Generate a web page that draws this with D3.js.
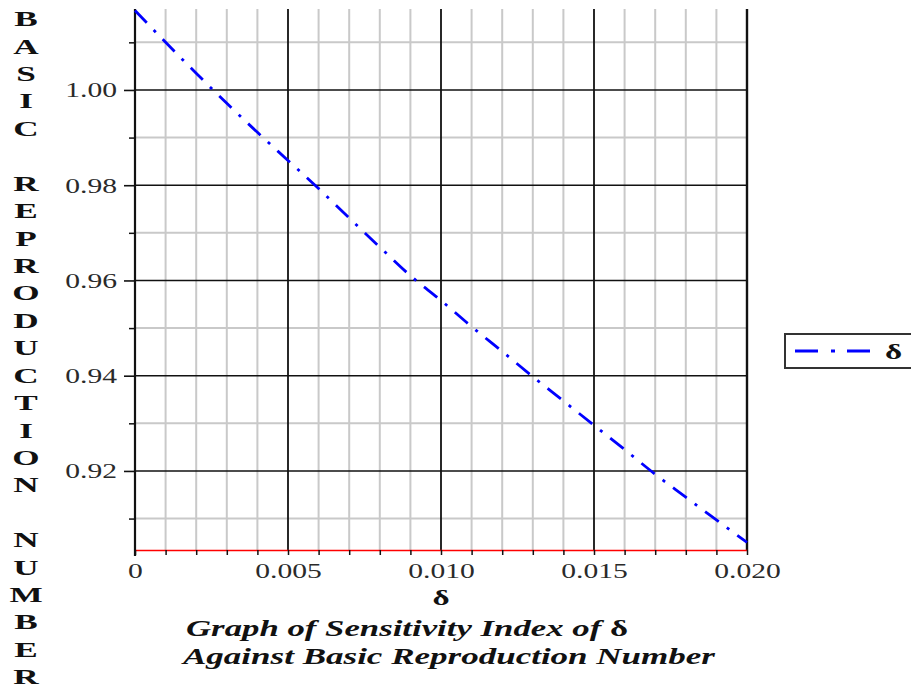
<!DOCTYPE html>
<html>
<head>
<meta charset="utf-8">
<script src="https://cdn.jsdelivr.net/npm/d3@7"></script>
<style>
  html, body { margin: 0; padding: 0; background: #fff; }
  svg { display: block; }
</style>
</head>
<body>
<svg id="chart" width="911" height="689"></svg>
<script>
// ---------------- data ----------------
const deltaValues = [0, 0.001, 0.002, 0.003, 0.004, 0.005, 0.006, 0.007, 0.008, 0.009, 0.010,
                     0.011, 0.012, 0.013, 0.014, 0.015, 0.016, 0.017, 0.018, 0.019, 0.020];
const r0Values = [1.0167, 1.0100, 1.0035, 0.9972, 0.9911, 0.9852, 0.9793, 0.9731, 0.9670, 0.9610, 0.9558,
                  0.9503, 0.9451, 0.9398, 0.9347, 0.9296, 0.9245, 0.9193, 0.9145, 0.9097, 0.9050];
const xTickValues = [0, 0.005, 0.010, 0.015, 0.020];
const xTickLabels = ["0", "0.005", "0.010", "0.015", "0.020"];
const yTickValues = [0.92, 0.94, 0.96, 0.98, 1.00];
const yTickLabels = ["0.92", "0.94", "0.96", "0.98", "1.00"];
const xMinorValues = [0.001, 0.002, 0.003, 0.004, 0.006, 0.007, 0.008, 0.009, 0.011, 0.012, 0.013, 0.014,
                      0.016, 0.017, 0.018, 0.019];
const yMinorValues = [0.91, 0.93, 0.95, 0.97, 0.99, 1.01];
const xDomain = [0, 0.02];
const yDomain = [0.9034, 1.0170];
const yAxisTitle = ["B","A","S","I","C","","R","E","P","R","O","D","U","C","T","I","O","N","","N","U","M","B","E","R"];
const xAxisTitle = "δ";
const legendLabel = "δ";
const titleLine1 = ["Graph of Sensitivity Index of ", "δ"];
const titleLine2 = "Against Basic Reproduction Number";

// ---------------- layout ----------------
const pLeft = 135, pRight = 747, pTop = 9, pBottom = 550;
const SX = 1.48; // horizontal stretch of the text in the reference
const serif = "'Liberation Serif', 'Times New Roman', serif";
const svg = d3.select("#chart");
const x = d3.scaleLinear().domain(xDomain).range([pLeft, pRight]);
const y = d3.scaleLinear().domain(yDomain).range([pBottom, pTop]);

const grid = svg.append("g");
grid.selectAll("line.vminor").data(xMinorValues).join("line")
  .attr("x1", d => x(d)).attr("x2", d => x(d))
  .attr("y1", pTop).attr("y2", pBottom)
  .attr("stroke", "#c9c9c9").attr("stroke-width", 2);
grid.selectAll("line.hminor").data(yMinorValues).join("line")
  .attr("x1", pLeft).attr("x2", pRight)
  .attr("y1", d => y(d)).attr("y2", d => y(d))
  .attr("stroke", "#c9c9c9").attr("stroke-width", 2);
grid.selectAll("line.hmajor").data(yTickValues).join("line")
  .attr("x1", pLeft).attr("x2", pRight)
  .attr("y1", d => y(d)).attr("y2", d => y(d))
  .attr("stroke", "#111").attr("stroke-width", 1.6);
grid.selectAll("line.vmajor").data(xTickValues.slice(1)).join("line")
  .attr("x1", d => x(d)).attr("x2", d => x(d))
  .attr("y1", pTop).attr("y2", pBottom)
  .attr("stroke", "#111").attr("stroke-width", d => d === 0.02 ? 2.4 : 1.8);

// ---------------- axes ----------------
const xAxis = d3.axisBottom(x)
  .tickValues(deltaValues)
  .tickSize(5).tickSizeOuter(0)
  .tickFormat(d => {
    const i = xTickValues.findIndex(v => Math.abs(v - d) < 1e-9);
    return i >= 0 ? xTickLabels[i] : "";
  });
const gx = svg.append("g").attr("transform", `translate(0,${pBottom})`).call(xAxis);
gx.select(".domain").attr("stroke", "#ff0000").attr("stroke-width", 1.6);
gx.selectAll(".tick line").attr("stroke", "#111").attr("stroke-width", 1.5);
gx.selectAll(".tick text")
  .attr("y", 28).attr("dy", 0)
  .attr("font-family", serif)
  .attr("font-size", 20).attr("fill", "#2a2a2a")
  .attr("transform", `scale(${SX},1)`);

const yAxis = d3.axisLeft(y)
  .tickValues(yTickValues).tickSize(11).tickSizeOuter(0)
  .tickFormat((d, i) => yTickLabels[i]);
const gy = svg.append("g").attr("transform", `translate(${pLeft},0)`).call(yAxis);
gy.select(".domain").remove();
gy.selectAll(".tick line").attr("stroke", "#111").attr("stroke-width", 1.6);
gy.selectAll(".tick text")
  .attr("x", -18 / SX).attr("dy", "0.34em")
  .attr("font-family", serif)
  .attr("font-size", 20).attr("fill", "#2a2a2a")
  .attr("transform", `scale(${SX},1)`);
const yAxisMinor = d3.axisLeft(y).tickValues(yMinorValues).tickSize(6).tickSizeOuter(0).tickFormat("");
const gym = svg.append("g").attr("transform", `translate(${pLeft},0)`).call(yAxisMinor);
gym.select(".domain").remove();
gym.selectAll(".tick line").attr("stroke", "#111").attr("stroke-width", 1.5);
svg.append("line")
  .attr("x1", pLeft).attr("x2", pLeft).attr("y1", pTop).attr("y2", pBottom + 6)
  .attr("stroke", "#111").attr("stroke-width", 2.2);

// ---------------- curve ----------------
const pts = deltaValues.map((d, i) => [d, r0Values[i]]);
const line = d3.line().x(d => x(d[0])).y(d => y(d[1])).curve(d3.curveMonotoneX);
svg.append("path")
  .attr("d", line(pts))
  .attr("fill", "none").attr("stroke", "#0000ff").attr("stroke-width", 2.8)
  .attr("stroke-dasharray", "17,10,3,10");

// ---------------- legend ----------------
const lg = svg.append("g").attr("transform", "translate(785,334)");
lg.append("rect").attr("x", 0).attr("y", 0).attr("width", 140).attr("height", 34)
  .attr("fill", "#fff").attr("stroke", "#333").attr("stroke-width", 2);
lg.append("line").attr("x1", 10).attr("x2", 85).attr("y1", 17).attr("y2", 17)
  .attr("stroke", "#0000ff").attr("stroke-width", 3).attr("stroke-dasharray", "23,13,4,12");
lg.append("text")
  .attr("transform", `translate(100,25) scale(1.5,1)`)
  .attr("font-family", serif)
  .attr("font-weight", "bold").attr("font-size", 22).attr("fill", "#111")
  .text(legendLabel);

// ---------------- titles ----------------
svg.append("text")
  .attr("transform", `translate(${(pLeft + pRight) / 2},605) scale(1.5,1)`)
  .attr("text-anchor", "middle")
  .attr("font-family", serif)
  .attr("font-weight", "bold").attr("font-size", 22).attr("fill", "#111")
  .text(xAxisTitle);

const t1 = svg.append("text")
  .attr("x", 186).attr("y", 636)
  .attr("textLength", 442).attr("lengthAdjust", "spacingAndGlyphs")
  .attr("font-family", serif)
  .attr("font-weight", "bold").attr("font-style", "italic")
  .attr("font-size", 24).attr("fill", "#111");
t1.append("tspan").text(titleLine1[0]);
t1.append("tspan").attr("font-style", "normal").text(titleLine1[1]);

svg.append("text")
  .attr("x", 183).attr("y", 664)
  .attr("textLength", 532).attr("lengthAdjust", "spacingAndGlyphs")
  .attr("font-family", serif)
  .attr("font-weight", "bold").attr("font-style", "italic")
  .attr("font-size", 24).attr("fill", "#111")
  .text(titleLine2);

svg.append("g").selectAll("text").data(yAxisTitle).join("text")
  .attr("transform", (d, i) => `translate(26,${18.5 + i * 27.42}) scale(1.6,1)`)
  .attr("text-anchor", "middle").attr("dy", "0.35em")
  .attr("font-family", serif)
  .attr("font-weight", "bold").attr("font-size", 22).attr("fill", "#111")
  .text(d => d);
</script>
</body>
</html>
